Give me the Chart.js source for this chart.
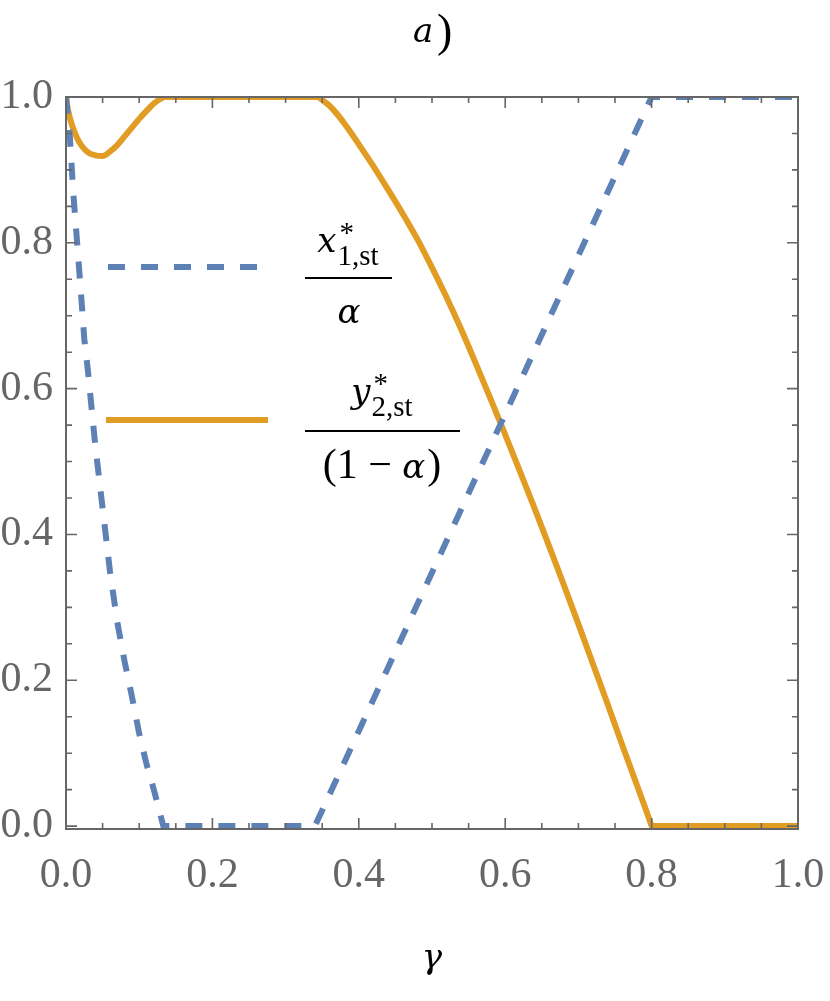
<!DOCTYPE html>
<html>
<head>
<meta charset="utf-8">
<script src="https://cdn.jsdelivr.net/npm/chart.js@4.4.1/dist/chart.umd.min.js"></script>
<style>
  html, body { margin: 0; padding: 0; background: #fff; }
  #wrap { width: 830px; height: 1001px; position: relative; }
</style>
</head>
<body>
<div id="wrap"><canvas id="chart"></canvas></div>
<script>
// ─────────────────────────────────────────────
// DATA
// ─────────────────────────────────────────────
// x*_{1,st} / alpha  (blue, dashed)
const gammaX1 = [0, 0.005, 0.01, 0.015, 0.02, 0.025, 0.03, 0.04, 0.05, 0.06, 0.07, 0.08,
                 0.09, 0.10, 0.11, 0.12, 0.133, 0.34, 0.80, 1.0];
const x1Values = [1.0, 0.95, 0.868, 0.803, 0.737, 0.668, 0.624, 0.522, 0.436, 0.35, 0.28, 0.226,
                  0.178, 0.127, 0.085, 0.05, 0, 0, 1.0, 1.0];

// y*_{2,st} / (1 - alpha)  (orange, solid)
const gammaY2 = [0, 0.003, 0.008, 0.015, 0.02, 0.03, 0.04, 0.05, 0.06, 0.07, 0.08, 0.09, 0.10,
                 0.11, 0.12, 0.13, 0.135, 0.343, 0.35, 0.36, 0.37, 0.38, 0.39, 0.40, 0.42, 0.44,
                 0.46, 0.48, 0.50, 0.52, 0.54, 0.56, 0.58, 0.60, 0.62, 0.64, 0.66, 0.68, 0.70,
                 0.72, 0.74, 0.76, 0.78, 0.799, 0.80, 1.0];
const y2Values = [1.0, 0.981, 0.962, 0.944, 0.935, 0.924, 0.92, 0.919, 0.925, 0.934, 0.946, 0.958, 0.970,
                  0.981, 0.991, 0.998, 1.0, 1.0, 0.996, 0.988, 0.977, 0.964, 0.950, 0.935, 0.905, 0.873,
                  0.840, 0.805, 0.766, 0.725, 0.681, 0.634, 0.586, 0.537, 0.487, 0.436, 0.384, 0.331, 0.277,
                  0.222, 0.167, 0.111, 0.056, 0.003, 0, 0];

const xTicks = [0, 0.2, 0.4, 0.6, 0.8, 1.0];
const yTicks = [0, 0.2, 0.4, 0.6, 0.8, 1.0];
const tickLabels = ['0.0', '0.2', '0.4', '0.6', '0.8', '1.0'];

const BLUE = '#5E81B5';
const ORANGE = '#E19C24';
const FRAME = '#666666';
const SERIF = '"Liberation Serif", serif';
// Liberation Serif has no italic face here, DejaVu Serif does
const ITALIC = 'italic 34px "DejaVu Serif", serif';

const toPoints = (xs, ys) => xs.map((v, i) => ({ x: v, y: ys[i] }));

// ─────────────────────────────────────────────
// FRAME + INWARD TICKS (drawn over the curves)
// ─────────────────────────────────────────────
const framePlugin = {
  id: 'frame',
  afterDatasetsDraw(chart) {
    const { ctx, chartArea: { left, right, top, bottom }, scales: { x, y } } = chart;
    ctx.save();
    ctx.strokeStyle = FRAME;
    ctx.lineWidth = 1.6;
    ctx.beginPath();
    for (let i = 0; i <= 20; i++) {
      const v = i * 0.05;
      const len = (i % 4 === 0) ? 11 : 6;
      const px = x.getPixelForValue(v);
      const py = y.getPixelForValue(v);
      ctx.moveTo(px, bottom); ctx.lineTo(px, bottom - len);
      ctx.moveTo(px, top); ctx.lineTo(px, top + len);
      ctx.moveTo(left, py); ctx.lineTo(left + len, py);
      ctx.moveTo(right, py); ctx.lineTo(right - len, py);
    }
    ctx.stroke();
    ctx.lineWidth = 2;
    ctx.strokeRect(left, top, right - left, bottom - top);
    ctx.restore();
  }
};

// ─────────────────────────────────────────────
// TITLE, AXIS LABEL AND LEGEND
// ─────────────────────────────────────────────
const textPlugin = {
  id: 'texts',
  afterDraw(chart) {
    const { ctx } = chart;
    const big = 42, small = 29;
    const up = s => `${s}px ${SERIF}`;
    ctx.save();
    ctx.fillStyle = '#000';
    ctx.textBaseline = 'alphabetic';

    // title a)
    ctx.font = ITALIC; ctx.textAlign = 'left';
    ctx.fillText('a', 413, 42);
    ctx.font = up(big + 4);
    ctx.fillText(')', 437, 46);

    // x label
    ctx.font = ITALIC; ctx.textAlign = 'center';
    ctx.fillText('γ', 432, 968);

    // legend lines
    ctx.lineWidth = 6;
    ctx.strokeStyle = BLUE;
    ctx.setLineDash([17, 16]);
    ctx.beginPath(); ctx.moveTo(108, 267); ctx.lineTo(258, 267); ctx.stroke();
    ctx.setLineDash([]);
    ctx.strokeStyle = ORANGE;
    ctx.beginPath(); ctx.moveTo(106, 420); ctx.lineTo(268, 420); ctx.stroke();

    // symbol with sup * and sub text, centred on cx
    const numerator = (sym, sub, cx, base) => {
      ctx.textAlign = 'left';
      ctx.font = ITALIC; const ws = ctx.measureText(sym).width;
      ctx.font = up(small); const wsub = ctx.measureText(sub).width;
      const sx = cx - (ws + 1 + wsub) / 2;
      ctx.font = ITALIC; ctx.fillText(sym, sx, base);
      ctx.font = up(small);
      ctx.fillText('*', sx + ws + 3, base - 10);
      ctx.fillText(sub, sx + ws + 1, base + 13);
    };

    // fraction 1: x*_{1,st} / alpha
    numerator('x', '1,st', 348, 252);
    ctx.fillRect(305, 277, 87, 2);
    ctx.font = ITALIC; ctx.textAlign = 'center';
    ctx.fillText('α', 349, 323);

    // fraction 2: y*_{2,st} / (1 - alpha)
    numerator('y', '2,st', 382, 403);
    ctx.fillRect(305, 430, 155, 2);
    const partA = '(1 − ', partB = 'α', partC = ')';
    ctx.textAlign = 'left';
    ctx.font = up(big); const wA = ctx.measureText(partA).width; const wC = ctx.measureText(partC).width;
    ctx.font = ITALIC; const wB = ctx.measureText(partB).width;
    const sx = 382 - (wA + wB + wC + 2) / 2;
    ctx.font = up(big); ctx.fillText(partA, sx, 478);
    ctx.font = ITALIC; ctx.fillText(partB, sx + wA, 478);
    ctx.font = up(big); ctx.fillText(partC, sx + wA + wB + 2, 478);
    ctx.restore();
  }
};

const chart = new Chart(document.getElementById('chart').getContext('2d'), {
  type: 'line',
  data: {
    datasets: [
      {
        label: 'x1st',
        data: toPoints(gammaX1, x1Values),
        borderColor: BLUE,
        borderWidth: 6,
        borderDash: [17, 16],
        borderCapStyle: 'butt',
        pointRadius: 0,
        tension: 0,
        clip: 0
      },
      {
        label: 'y2st',
        data: toPoints(gammaY2, y2Values),
        borderColor: ORANGE,
        borderWidth: 6,
        cubicInterpolationMode: 'monotone',
        pointRadius: 0,
        clip: 0
      }
    ]
  },
  options: {
    responsive: true,
    maintainAspectRatio: false,
    animation: false,
    layout: { padding: { top: 97, right: 32, left: 0, bottom: 0 } },
    plugins: { legend: { display: false }, tooltip: { enabled: false }, title: { display: false } },
    scales: {
      x: {
        type: 'linear',
        min: 0,
        max: 1,
        grid: { display: false, drawTicks: false },
        border: { display: false },
        afterBuildTicks: s => { s.ticks = xTicks.map(v => ({ value: v })); },
        afterFit: s => { s.height = 172; s.paddingLeft = 0; s.paddingRight = 0; },
        ticks: {
          color: FRAME,
          padding: 22,
          maxRotation: 0,
          font: { family: SERIF, size: 42 },
          callback: (v) => tickLabels[xTicks.findIndex(t => Math.abs(t - v) < 1e-9)]
        }
      },
      y: {
        type: 'linear',
        min: -0.004,
        max: 1,
        grid: { display: false, drawTicks: false },
        border: { display: false },
        afterBuildTicks: s => { s.ticks = yTicks.map(v => ({ value: v })); },
        afterFit: s => { s.width = 66; },
        ticks: {
          color: FRAME,
          padding: 13,
          font: { family: SERIF, size: 42 },
          callback: (v) => tickLabels[yTicks.findIndex(t => Math.abs(t - v) < 1e-9)]
        }
      }
    }
  },
  plugins: [framePlugin, textPlugin]
});
</script>
</body>
</html>
